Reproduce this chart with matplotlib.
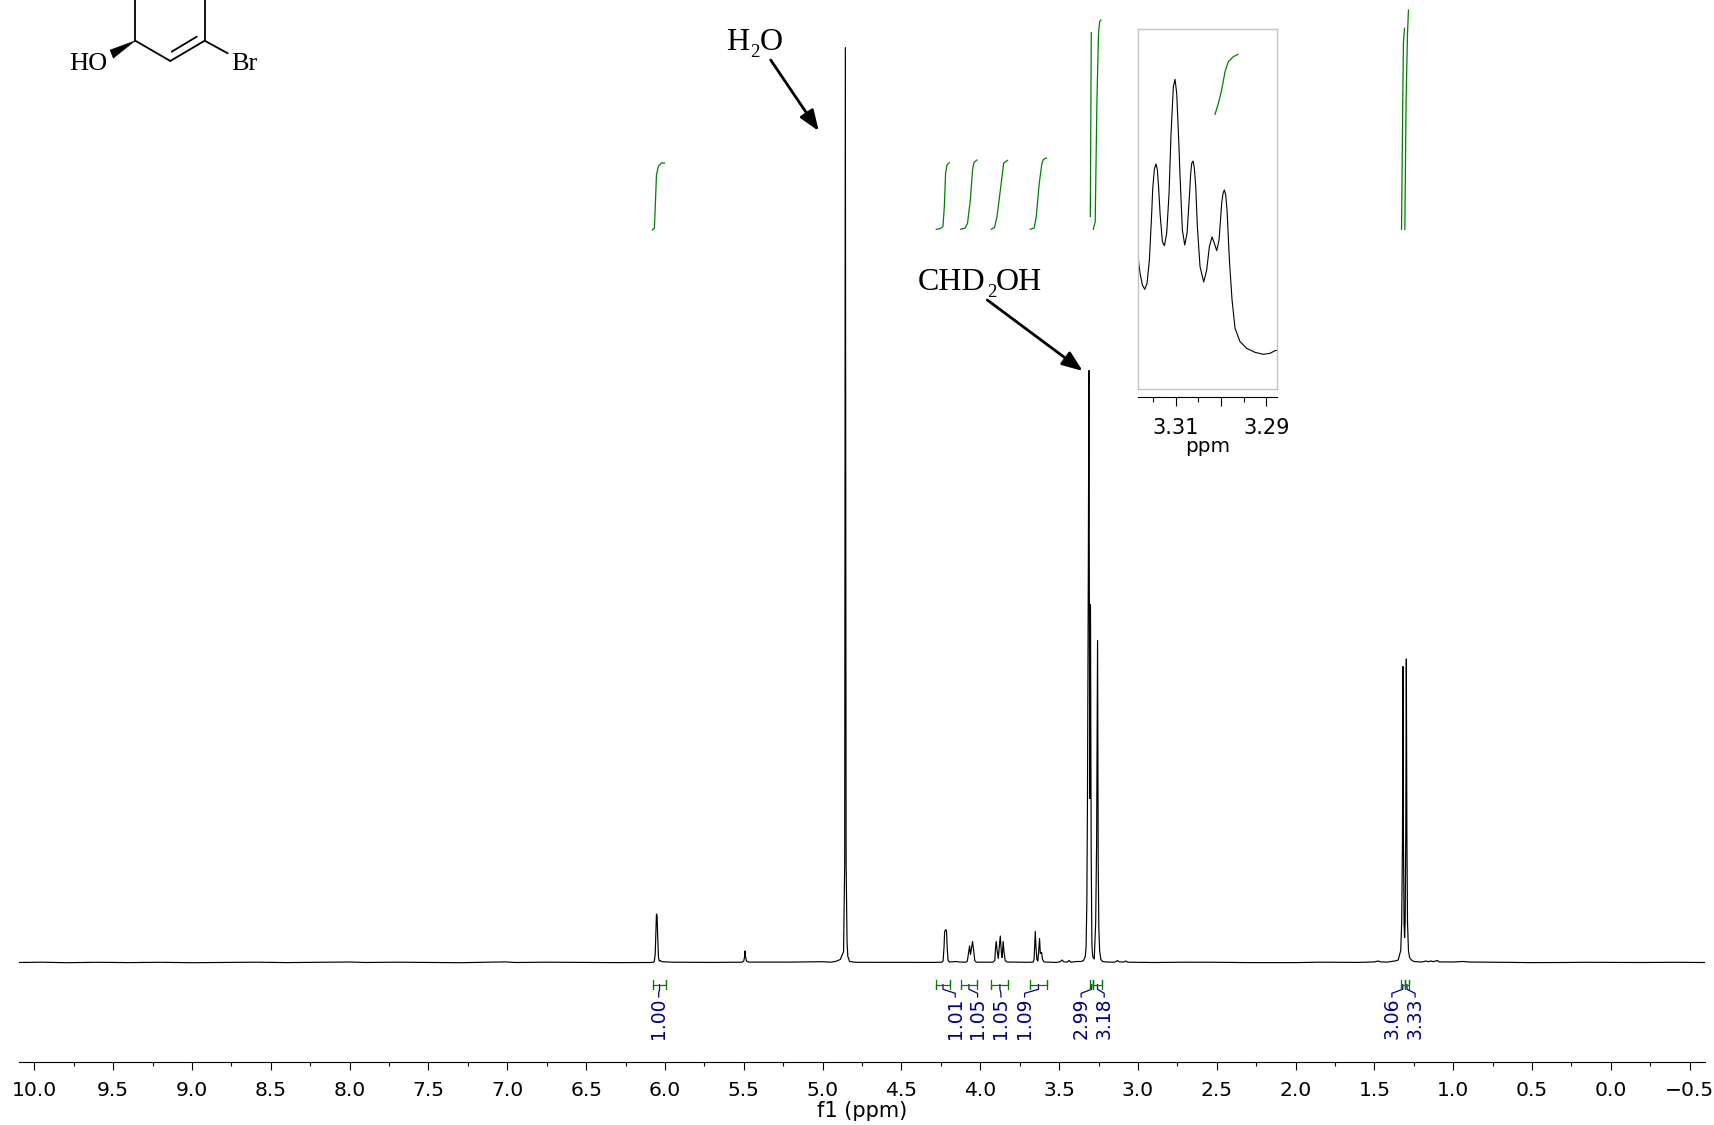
import matplotlib
matplotlib.use("Agg")
import matplotlib.pyplot as plt
from matplotlib.patches import Polygon

W, H = 1715, 1125

# ---------- main spectrum ----------
spectrum_ppm = [
    10.10, 9.95, 9.8, 9.6, 9.4, 9.2, 9.0, 8.8, 8.6, 8.4, 8.2, 8.0, 7.9, 7.7, 7.5, 7.3, 7.01, 6.95, 6.75, 6.5, 6.3, 6.10,
    6.075, 6.068, 6.062, 6.058, 6.054, 6.050, 6.046, 6.041, 6.036, 6.03, 6.02, 5.95, 5.7,
    5.51, 5.50, 5.495, 5.492, 5.489, 5.483, 5.47, 5.2, 5.0,
    4.951, 4.919, 4.888, 4.875, 4.867, 4.860, 4.856, 4.851, 4.845, 4.840, 4.829, 4.793,
    4.5, 4.3, 4.245, 4.236, 4.230, 4.226, 4.219, 4.214, 4.209, 4.204, 4.195, 4.15, 4.135,
    4.09, 4.082, 4.074, 4.068, 4.062, 4.058, 4.049, 4.042, 4.035, 4.025,
    3.92, 3.908, 3.903, 3.899, 3.893, 3.886, 3.880, 3.873, 3.866, 3.861, 3.855, 3.849, 3.842, 3.83, 3.7,
    3.665, 3.659, 3.655, 3.651, 3.647, 3.641, 3.635, 3.630, 3.624, 3.619, 3.611, 3.605, 3.595,
    3.52, 3.495, 3.482, 3.47, 3.45, 3.436, 3.425,
    3.39, 3.36, 3.345, 3.334, 3.329, 3.324, 3.320, 3.3145, 3.311, 3.3055, 3.301, 3.2965, 3.292, 3.289, 3.285,
    3.277, 3.268, 3.262, 3.256, 3.252, 3.248, 3.243, 3.235, 3.225, 3.20, 3.15,
    3.145, 3.13, 3.12, 3.09, 3.076, 3.065, 2.9, 2.7, 2.5, 2.3, 2.0, 1.85, 1.7, 1.6,
    1.5, 1.476, 1.46, 1.42, 1.395, 1.37, 1.349, 1.333, 1.327, 1.322, 1.319, 1.316, 1.312, 1.3085,
    1.305, 1.301, 1.2975, 1.294, 1.29, 1.284, 1.277, 1.265, 1.25, 1.2,
    1.17, 1.16, 1.14, 1.128, 1.10, 1.09, 1.0, 0.94, 0.9, 0.7, 0.5, 0.3, 0.15, 0.0, -0.2, -0.4, -0.597,
]
spectrum_int = [
    0, 0.3, -0.2, 0.2, -0.1, 0.2, -0.2, 0.1, 0.3, -0.1, 0.2, 0.5, 0, 0.3, 0.1, -0.2, 0.6, 0, 0.3, 0.1, -0.1, 0,
    0.2, 1, 8, 30, 48.5, 47, 25, 5, 1.5, 2, 0.8, 0.3, 0.1,
    0.3, 1.5, 6, 11.5, 6, 1.5, 0.4, 0.4, 0.8,
    0.3, 1, 3, 8, 11, 100, 915, 100, 20, 6, 1, 0.2,
    0.1, 0.1, 0.3, 1.5, 15, 31, 33, 31, 12, 2, 0.5, 1, 0.5,
    0.3, 1.5, 10, 16.5, 8, 12, 21, 12, 2, 0.3,
    0.3, 2, 15, 21, 12, 4, 14, 26.5, 10, 5, 21, 10, 2, 0.5, 0.2,
    0.4, 3, 18, 31, 16, 3, 1.5, 10, 24, 9, 10, 3, 0.5,
    0.1, 0.6, 2.5, 0.6, 0.4, 2, 0.3,
    1, 1, 2, 6, 15, 60, 165, 400, 592, 164, 358, 110, 19, 10, 5,
    3.5, 40, 120, 322, 100, 35, 12, 3, 1, 0.5, 0.3,
    0.5, 2, 0.6, 0.5, 1.5, 0.3, 0, 0.3, 0.2, -0.1, -0.1, 0.3, 0.2, 0.1,
    0.6, 1.5, 0.6, 0.4, 1, 1.5, 2.5, 12, 40, 120, 296, 130, 40, 25,
    40, 130, 303.5, 130, 40, 12, 5, 2.5, 1, 0.5,
    1.5, 0.8, 1.5, 0.8, 2, 0.6, 0.5, 1, 0.5, 0.2, -0.1, 0, 0.2, 0.1, 0, 0.2, 0,
]

# ---------- x axis ----------
major_ticks = [10.0, 9.5, 9.0, 8.5, 8.0, 7.5, 7.0, 6.5, 6.0, 5.5, 5.0, 4.5, 4.0, 3.5, 3.0, 2.5, 2.0, 1.5, 1.0, 0.5, 0.0, -0.5]
major_labels = ['10.0', '9.5', '9.0', '8.5', '8.0', '7.5', '7.0', '6.5', '6.0', '5.5', '5.0', '4.5', '4.0', '3.5', '3.0', '2.5', '2.0', '1.5', '1.0', '0.5', '0.0', '\u22120.5']
minor_ticks = [9.75, 9.25, 8.75, 8.25, 7.75, 7.25, 6.75, 6.25, 5.75, 5.25, 4.75, 4.25, 3.75, 3.25, 2.75, 2.25, 1.75, 1.25, 0.75, 0.25, -0.25]

# ---------- integral curves ----------
int_curves_ppm = [
    [6.080, 6.067, 6.060, 6.054, 6.041, 6.022, 6.003],
    [4.279, 4.254, 4.237, 4.228, 4.220, 4.211, 4.197],
    [4.125, 4.095, 4.081, 4.063, 4.049, 4.040, 4.021],
    [3.930, 3.909, 3.894, 3.862, 3.852, 3.827],
    [3.683, 3.658, 3.645, 3.626, 3.609, 3.599, 3.580],
    [3.302, 3.296],
    [3.283, 3.271, 3.260, 3.250, 3.243, 3.235],
    [1.328, 1.320, 1.316, 1.309],
    [1.307, 1.299, 1.290, 1.284],
]
int_curves_val = [
    [732.5, 734.5, 762.5, 787.5, 796.5, 799.5, 799.5],
    [733.2, 733.8, 735.8, 755.8, 789.2, 797.5, 799.8],
    [733.2, 734.5, 739.2, 762.5, 792.5, 800.2, 802.5],
    [733.2, 735.2, 745.8, 785.8, 799.2, 802.2],
    [733.2, 734.5, 745.8, 779.2, 799.2, 803.2, 804.5],
    [745.8, 929.8],
    [733.2, 740.8, 862.5, 929.2, 940.8, 942.5],
    [733.2, 862.5, 919.2, 934.2],
    [733.2, 862.5, 929.2, 952.5],
]

# ---------- integral brackets and their labels ----------
int_labels = ['1.00', '1.01', '1.05', '1.05', '1.09', '2.99', '3.18', '3.06', '3.33']
bracket_start = [6.078, 4.281, 4.125, 3.930, 3.685, 3.304, 3.282, 1.332, 1.307]
bracket_end = [5.991, 4.192, 4.019, 3.821, 3.577, 3.285, 3.231, 1.309, 1.280]
label_ppm = [6.040, 4.159, 4.017, 3.869, 3.719, 3.360, 3.214, 1.389, 1.242]

# ---------- inset ----------
inset_ppm = [
    3.31824, 3.31787, 3.31736, 3.31684, 3.31633, 3.31581, 3.31530, 3.31508, 3.31471, 3.31434, 3.31405, 3.31375,
    3.31346, 3.31294, 3.31250, 3.31199, 3.31147, 3.31103, 3.31052, 3.31015, 3.30978, 3.30934, 3.30904, 3.30853,
    3.30801, 3.30750, 3.30698, 3.30669, 3.30647, 3.30617, 3.30588, 3.30558, 3.30522, 3.30463, 3.30382, 3.30316,
    3.30257, 3.30198, 3.30146, 3.30095, 3.30043, 3.29985, 3.29955, 3.29926, 3.29896, 3.29867, 3.29815, 3.29756,
    3.29690, 3.29580, 3.29433, 3.29249, 3.29065, 3.28918, 3.28807, 3.28756,
]
inset_int = [
    387, 347, 312, 299, 317, 387, 527, 600, 660, 675, 657, 600,
    527, 442, 430, 467, 587, 767, 907, 929, 887, 747, 637, 477,
    432, 467, 577, 647, 677, 684, 662, 607, 487, 367, 321, 357,
    427, 456, 437, 415, 447, 557, 587, 597, 582, 537, 387, 267,
    182, 142, 122, 110, 104, 107, 115, 116,
]
inset_curve_ppm = [3.30132, 3.30058, 3.29985, 3.29911, 3.29838, 3.29727, 3.29624]
inset_curve_val = [824, 857, 897, 952, 982, 997, 1004]
inset_major = [3.31, 3.30, 3.29]
inset_major_labels = ['3.31', '', '3.29']
inset_minor = [3.315, 3.305, 3.295]

GREEN = '#008000'
NAVY = '#00008b'


def axes_rect(x0, y0, x1, y1):
    return [x0 / W, 1 - y1 / H, (x1 - x0) / W, (y1 - y0) / H]


fig = plt.figure(figsize=(W / 100, H / 100), dpi=100, facecolor='white')

# main axes: intensity is expressed so that 0 sits on the spectrum baseline
ax = fig.add_axes(axes_rect(18.6, 0, 1705, 1062))
ax.set_xlim(10.1, -0.597)
ax.set_ylim(-99.5, 962.5)
ax.patch.set_alpha(0)
for s in ('left', 'right', 'top'):
    ax.spines[s].set_visible(False)
ax.spines['bottom'].set_linewidth(0.8)
ax.set_yticks([])
ax.set_xticks(major_ticks, major_labels, fontsize=14.6)
ax.set_xticks(minor_ticks, minor=True)
ax.tick_params(axis='x', which='major', length=6, width=0.8, pad=8)
ax.tick_params(axis='x', which='minor', length=2.8, width=0.8)
ax.set_xlabel('f1 (ppm)', fontsize=15, labelpad=0.7)

ax.plot(spectrum_ppm, spectrum_int, color='black', lw=0.85, solid_joinstyle='round')

for xs, ys in zip(int_curves_ppm, int_curves_val):
    ax.plot(xs, ys, color=GREEN, lw=0.9)

BR_Y, BR_H, ELBOW1, ELBOW2, STUB, TXT_TOP = -22.2, 4.5, -26.8, -30.8, -34.5, -35.0
for lab, a, b, lp in zip(int_labels, bracket_start, bracket_end, label_ppm):
    c = (a + b) / 2
    ax.plot([c, c, lp, lp], [BR_Y, ELBOW1, ELBOW2, STUB], color=NAVY, lw=0.9, zorder=2)
    ax.plot([a, a, a, b, b, b], [BR_Y + BR_H, BR_Y - BR_H, BR_Y, BR_Y, BR_Y + BR_H, BR_Y - BR_H],
            color=GREEN, lw=0.9, zorder=3)
    ax.text(lp, TXT_TOP, lab, rotation=90, ha='center', va='top', color=NAVY, fontsize=13.5)

# inset
axi = fig.add_axes(axes_rect(1138.3, 29, 1277.3, 389))
axi.set_xlim(3.31826, 3.28757)
axi.set_ylim(0, 1080)
axi.set_xticks([])
axi.set_yticks([])
for s in axi.spines.values():
    s.set_color('#c4c4c4')
    s.set_linewidth(1.0)
axi.plot(inset_ppm, inset_int, color='black', lw=0.8, solid_joinstyle='round')
axi.plot(inset_curve_ppm, inset_curve_val, color=GREEN, lw=0.9)
sec = axi.secondary_xaxis(-0.0214)
sec.set_xticks(inset_major, inset_major_labels, fontsize=15)
sec.set_xticks(inset_minor, minor=True)
sec.tick_params(axis='x', which='major', length=6.5, width=0.8, pad=9)
sec.tick_params(axis='x', which='minor', length=3.5, width=0.8)
sec.spines['bottom'].set_linewidth(0.8)
sec.set_xlabel('ppm', fontsize=14.4, labelpad=-1)

# overlay in pixel units for the drawn structure and hand-placed annotations
ov = fig.add_axes([0, 0, 1, 1])
ov.set_xlim(0, W)
ov.set_ylim(H, 0)
ov.axis('off')
ov.patch.set_alpha(0)

SERIF = 'Liberation Serif'
for (x0, y0, x1, y1) in [(135.3, 0, 135.3, 40.7), (135.3, 40.7, 170.3, 61), (170.3, 61, 204.7, 40.7),
                         (171.7, 51.7, 196.7, 36.7), (204.7, 40.7, 204.7, 0), (204.7, 40.7, 227.7, 53.3)]:
    ov.plot([x0, x1], [y0, y1], color='black', lw=1.3, solid_capstyle='round')
ov.add_patch(Polygon([(135.3, 40.7), (110, 50), (113.3, 58.3)], closed=True, fc='black', ec='black', lw=0.3))
ov.text(69, 70, 'HO', family=SERIF, fontsize=19, ha='left', va='baseline')
ov.text(231.5, 70, 'Br', family=SERIF, fontsize=19, ha='left', va='baseline')

# water and methanol labels: letters and lowered subscripts set separately
ov.text(726.5, 50, 'H', family=SERIF, fontsize=23, ha='left', va='baseline')
ov.text(750, 56.7, '2', family=SERIF, fontsize=13.5, ha='left', va='baseline')
ov.text(759.5, 50, 'O', family=SERIF, fontsize=23, ha='left', va='baseline')
ov.text(917.5, 290, 'CHD', family=SERIF, fontsize=23, ha='left', va='baseline')
ov.text(986.7, 296.7, '2', family=SERIF, fontsize=13.5, ha='left', va='baseline')
ov.text(995.5, 290, 'OH', family=SERIF, fontsize=23, ha='left', va='baseline')

arrow = dict(arrowstyle='-|>,head_length=1.25,head_width=0.48', color='black', lw=2.0, mutation_scale=10,
             shrinkA=0, shrinkB=0)
ov.annotate('', xy=(818.7, 131), xytext=(770.7, 60), arrowprops=arrow)
ov.annotate('', xy=(1082.7, 371), xytext=(987.3, 300), arrowprops=arrow)

fig.savefig('out.png', dpi=100, facecolor='white')
